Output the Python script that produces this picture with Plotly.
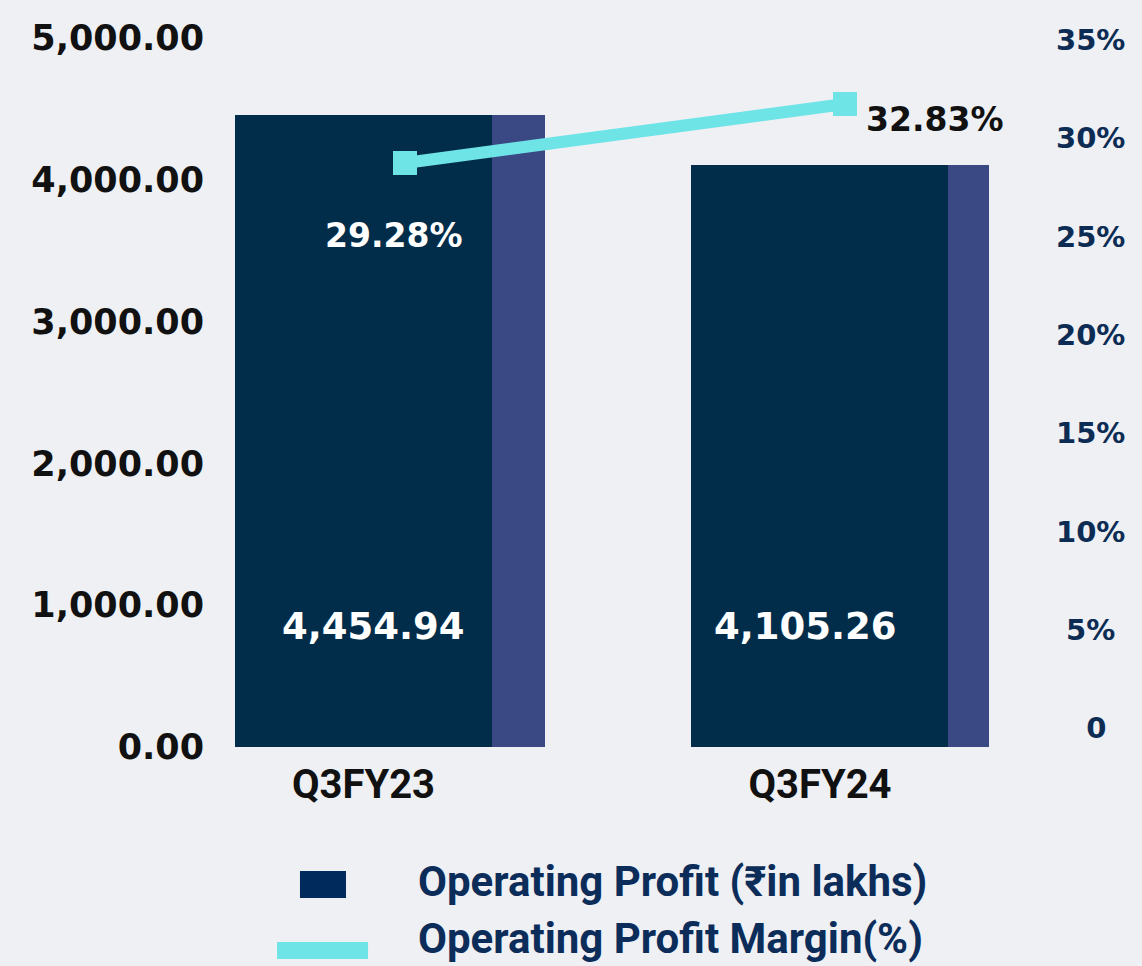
import plotly.graph_objects as go

# ---- data ----
categories = ["Q3FY23", "Q3FY24"]
operating_profit = [4454.94, 4105.26]          # ₹ in lakhs
margin_pct = [29.28, 32.83]                    # %
left_ticks = [0, 1000, 2000, 3000, 4000, 5000]
right_ticks = [0, 5, 10, 15, 20, 25, 30, 35]
legend_labels = ["Operating Profit (₹in lakhs)", "Operating Profit Margin(%)"]


def right_label(v):
    txt = "0" if v == 0 else f"{v}%"
    pad = {1: 3, 2: 1}.get(len(txt), 0)          # visually centre the labels
    return "\u00a0" * pad + txt


right_tick_labels = [right_label(v) for v in right_ticks]

BAR = "#022d4a"
SIDE = "#3a4883"
LINE = "#6ee4e7"
NAVY = "#0c2d5a"
BG = "#eef0f4"

fig = go.Figure()

# side strip of each bar
fig.add_trace(go.Bar(
    x=categories, y=operating_profit,
    width=[0.116, 0.09], offset=[0.2815, 0.2805],
    marker=dict(color=SIDE, line=dict(width=0)),
    showlegend=False, hoverinfo="skip",
))
# main bar
fig.add_trace(go.Bar(
    x=categories, y=operating_profit,
    width=0.5625, offset=-0.2815,
    marker=dict(color=BAR, line=dict(width=0)),
    name=legend_labels[0], showlegend=False,
))
# margin line
fig.add_trace(go.Scatter(
    x=categories, y=margin_pct, xaxis="x2", yaxis="y3",
    mode="lines+markers",
    line=dict(color=LINE, width=12),
    marker=dict(symbol="square", size=24, color=LINE),
    name=legend_labels[1], showlegend=False,
))
# invisible trace so that the right-hand % axis renders
fig.add_trace(go.Scatter(x=categories, y=[None, None], yaxis="y2",
                         showlegend=False, hoverinfo="skip"))

annotations = []
# bar value labels
for cat, v, dx in zip(categories, operating_profit, [10, -14]):
    annotations.append(dict(
        x=cat, y=0, xref="x", yref="y", text=f"{v:,.2f}", showarrow=False,
        xshift=dx, yshift=121, yanchor="middle",
        font=dict(family="DejaVu Sans", size=37, color="white", weight="bold"),
    ))
# margin labels
for cat, v, dx, dy, col in zip(categories, margin_pct, [-11, 90], [-73, -16], ["white", "#111111"]):
    annotations.append(dict(
        x=cat, y=v, xref="x2", yref="y3", text=f"{v:.2f}%", showarrow=False,
        xshift=dx, yshift=dy, yanchor="middle",
        font=dict(family="DejaVu Sans", size=33, color=col, weight="bold"),
    ))
# legend text
for lbl, yy in zip(legend_labels, [-0.1890, -0.2708]):
    annotations.append(dict(
        x=0.2437, y=yy, xref="paper", yref="paper", text=lbl, showarrow=False,
        xanchor="left", yanchor="middle",
        font=dict(family="Roboto", size=42, color=NAVY, weight="bold"),
    ))

shapes = [
    dict(type="rect", xref="paper", yref="paper", x0=0.1030, x1=0.1588,
         y0=-0.2130, y1=-0.1749, fillcolor="#012a5c", line=dict(width=0)),
    dict(type="rect", xref="paper", yref="paper", x0=0.0752, x1=0.1855,
         y0=-0.2990, y1=-0.2750, fillcolor=LINE, line=dict(width=0)),
]

fig.update_layout(
    width=1142, height=966,
    margin=dict(l=215, r=102, t=38, b=219),
    paper_bgcolor=BG, plot_bgcolor=BG,
    barmode="overlay", bargap=0,
    showlegend=False,
    annotations=annotations, shapes=shapes,
    xaxis=dict(
        type="category", categoryorder="array", categoryarray=categories,
        range=[-0.3253, 1.482], showgrid=False, zeroline=False, showline=False,
        ticks="", ticklabelstandoff=10,
        tickfont=dict(family="Roboto", size=40, color="#111111", weight="bold"),
    ),
    xaxis2=dict(
        type="category", categoryorder="array", categoryarray=categories,
        overlaying="x", range=[-0.4318, 1.4432], visible=False,
    ),
    yaxis=dict(
        range=[0, 5000], tickvals=left_ticks, tickformat=",.2f",
        showgrid=False, zeroline=False, showline=False, ticks="",
        ticklabelstandoff=10,
        tickfont=dict(family="DejaVu Sans", size=35, color="#111111", weight="bold"),
    ),
    yaxis2=dict(
        overlaying="y", side="right", range=[-0.967, 35.10],
        tickvals=right_ticks, ticktext=right_tick_labels,
        showgrid=False, zeroline=False, showline=False, ticks="",
        ticklabelstandoff=15,
        tickfont=dict(family="DejaVu Sans", size=29, color="#0d2c54", weight="bold"),
    ),
    yaxis3=dict(
        overlaying="y", side="right", range=[-5.86, 36.80], visible=False,
    ),
)

fig.write_html(
    "out.html",
    config={"displayModeBar": False},
    post_script="document.body.style.margin='0';document.body.style.background='#eef0f4';",
)
